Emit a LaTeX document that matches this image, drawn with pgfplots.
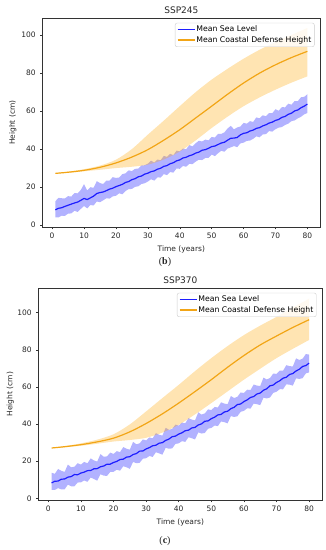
\documentclass[border=0pt]{standalone}
\usepackage{fontspec}
\setmainfont{DejaVu Sans}
\newfontfamily\capfont{Liberation Serif}
\usepackage{pgfplots}
\usepackage{pgfplotstable}
\pgfplotsset{compat=1.18}
\usepgfplotslibrary{fillbetween}

\definecolor{mblue}{RGB}{0,0,255}
\definecolor{lblue}{RGB}{30,30,255}
\definecolor{morange}{RGB}{255,165,0}
\definecolor{lorange}{RGB}{242,165,22}

% SSP245 sea level: x mean lo hi
\pgfplotstableread{
x m lo hi
1 8.0 4.0 12.5
2 8.8 4.0 14.3
3 9.1 4.9 14.1
4 9.8 4.8 14.0
5 10.4 6.0 15.2
6 11.0 6.1 15.0
7 11.6 7.5 16.8
8 12.1 6.9 16.7
9 13.0 8.5 18.5
10 14.0 10.0 21.5
11 13.4 8.8 18.2
12 14.3 10.5 19.9
13 15.2 10.3 19.6
14 16.6 12.4 23.1
15 17.1 12.0 22.1
16 17.4 13.0 21.6
17 18.1 14.1 23.4
18 18.9 13.9 23.4
19 19.4 15.1 25.2
20 20.2 15.4 24.8
21 20.8 16.7 25.0
22 21.4 16.2 26.8
23 22.4 17.9 27.2
24 22.9 18.9 28.8
25 23.9 19.0 28.4
26 24.4 20.1 29.6
27 25.4 20.4 29.7
28 25.8 21.6 31.4
29 26.8 22.0 31.5
30 27.3 22.9 32.3
31 28.1 24.1 33.9
32 28.5 23.4 32.9
33 29.4 25.1 34.5
34 29.9 25.0 34.1
35 30.9 26.8 36.4
36 31.3 26.3 35.9
37 32.3 27.9 37.5
38 32.8 27.6 36.8
39 33.8 29.8 39.2
40 34.3 29.6 38.8
41 35.3 31.1 40.3
42 35.7 30.7 39.9
43 36.5 32.2 42.1
44 37.0 32.1 41.4
45 37.9 33.4 43.1
46 38.4 34.4 44.4
47 39.4 34.2 44.0
48 39.7 35.3 45.0
49 40.4 35.4 44.6
50 41.3 37.1 46.4
51 41.6 36.3 46.1
52 42.4 37.8 48.0
53 43.2 39.1 48.0
54 43.6 38.6 48.8
55 44.7 40.3 50.9
56 45.7 40.9 52.2
57 45.8 41.6 50.4
58 46.1 41.0 51.4
59 47.5 43.0 51.9
60 48.3 43.4 53.8
61 48.6 44.3 53.4
62 49.5 44.5 54.7
63 50.0 45.4 54.3
64 50.9 46.7 56.7
65 51.3 46.2 56.2
66 52.2 47.7 57.8
67 52.8 47.9 57.3
68 53.7 49.5 59.0
69 54.2 49.2 58.9
70 55.1 50.5 61.0
71 55.6 51.3 60.2
72 56.7 51.6 62.1
73 57.2 52.7 62.0
74 58.3 53.4 63.9
75 58.9 54.7 63.4
76 60.1 55.1 65.3
77 60.6 56.2 65.3
78 61.8 57.0 67.3
79 62.6 58.3 67.5
80 63.7 59.0 68.9
}\seaA

% SSP245 coastal defense
\pgfplotstableread{
x m lo hi
1 27.2 27.1 27.3
5 27.8 27.5 28.1
10 28.8 28.3 29.4
15 30.4 29.1 31.3
20 32.7 30.0 34.4
25 35.8 30.7 40.0
30 39.7 31.8 47.6
35 44.7 34.5 55.0
40 50.2 38.7 62.6
45 56.4 44.6 70.0
50 62.6 51.1 76.6
55 68.9 57.1 82.3
60 74.8 62.6 87.6
65 80.0 67.2 92.3
70 84.4 71.3 96.3
75 88.2 75.0 100.1
80 91.5 78.3 103.8
}\defA

% SSP370 sea level
\pgfplotstableread{
x m lo hi
1 8.3 4.6 13.8
2 9.2 4.5 13.2
3 9.3 5.5 15.8
4 10.3 4.8 14.8
5 10.4 4.8 14.2
6 11.4 7.4 18.2
7 11.7 6.5 16.7
8 12.8 6.5 17.0
9 12.7 8.5 18.9
10 13.6 8.6 18.2
11 14.1 9.6 19.6
12 14.9 8.9 18.9
13 15.0 11.2 21.5
14 15.9 10.4 20.4
15 16.0 9.5 19.8
16 17.0 13.0 23.8
17 17.4 12.2 22.4
18 18.4 12.1 22.6
19 18.4 14.2 24.6
20 19.3 14.3 23.9
21 19.9 15.4 25.4
22 20.9 14.9 24.9
23 21.1 17.3 27.6
24 22.2 16.7 26.7
25 22.4 15.9 26.2
26 23.6 19.6 30.4
27 24.1 18.9 29.1
28 25.4 19.1 29.6
29 25.5 21.3 31.7
30 26.6 21.6 31.2
31 27.3 22.8 32.8
32 28.3 22.3 32.3
33 28.6 24.8 35.1
34 29.7 24.2 34.2
35 30.0 23.5 33.8
36 31.2 27.2 38.0
37 31.9 26.7 36.9
38 33.2 26.9 37.4
39 33.5 29.3 39.7
40 34.6 29.6 39.2
41 35.3 30.8 40.8
42 36.4 30.4 40.4
43 36.7 32.9 43.2
44 37.9 32.4 42.4
45 38.2 31.7 42.0
46 39.5 35.5 46.3
47 40.1 34.9 45.1
48 41.5 35.2 45.7
49 41.7 37.5 47.9
50 42.9 37.9 47.5
51 43.7 39.2 49.2
52 44.9 38.9 48.9
53 45.2 41.4 51.7
54 46.5 41.0 51.0
55 46.9 40.4 50.7
56 48.3 44.3 55.1
57 49.0 43.8 54.0
58 50.5 44.2 54.7
59 50.8 46.6 57.0
60 52.1 47.1 56.7
61 53.0 48.5 58.5
62 54.3 48.3 58.3
63 54.8 51.0 61.3
64 56.2 50.7 60.7
65 56.7 50.2 60.5
66 58.2 54.2 65.0
67 59.0 53.8 64.0
68 60.6 54.3 64.8
69 61.0 56.8 67.2
70 62.4 57.4 67.0
71 63.3 58.8 68.8
72 64.7 58.7 68.7
73 65.2 61.4 71.7
74 66.7 61.2 71.2
75 67.2 60.7 71.0
76 68.6 64.6 75.4
77 69.5 64.3 74.5
78 71.0 64.7 75.2
79 71.5 67.3 77.7
80 72.8 67.8 77.4
}\seaB

% SSP370 coastal defense
\pgfplotstableread{
x m lo hi
1 27.1 27.0 27.2
5 27.8 27.5 28.1
10 28.9 28.3 29.6
15 30.4 29.4 31.6
20 32.4 30.6 34.5
25 35.8 31.4 39.8
30 40.3 32.6 46.8
35 45.5 35.4 54.0
40 51.3 39.6 61.1
45 57.5 45.2 68.5
50 63.9 51.3 75.5
55 70.6 57.6 82.0
60 76.9 63.9 87.9
65 82.6 69.8 93.0
70 87.4 75.5 97.7
75 92.0 80.5 102.7
80 96.2 85.3 107.5
}\defB

\pgfplotsset{
  panel/.style={
    scale only axis,
    anchor=south west,
    xmin=-2.95, xmax=83.95,
    xtick={0,10,...,80}, ytick={0,20,...,100},
    tick align=outside, xtick pos=bottom, ytick pos=left,
    major tick length=2.5pt,
    tick style={black!80, line width=0.5pt},
    axis line style={black!80, line width=0.6pt},
    /pgf/number format/assume math mode=true,
    ticklabel style={font=\fontsize{7.5}{9}\selectfont, text=black!85},
    yticklabel style={xshift=-1pt},
    label style={font=\fontsize{7.5}{9}\selectfont, text=black!85},
    title style={font=\fontsize{9}{11}\selectfont, text=black!85, at={(axis description cs:0.5,1)}, anchor=base, yshift=-1.3pt},
    xlabel={Time (years)},
    ylabel={Height (cm)},
    legend cell align=left,
    legend style={at={(1,1)}, anchor=north east, xshift=-5.5pt, yshift=-4.5pt,
      draw=black!20, rounded corners=2pt, fill=white, fill opacity=0.8, text opacity=1,
      font=\fontsize{7.75}{9}\selectfont, inner xsep=2pt, inner ysep=2pt,
      row sep=1pt, nodes={inner sep=1pt}},
    legend image code/.code={\draw[##1, line width=1.2pt] (0pt,0pt) -- (17pt,0pt);},
  }
}

\begin{document}
\begin{tikzpicture}

\begin{axis}[panel, at={(42.7pt,323pt)}, width=277.3pt, height=208.7pt,
  ymin=-1.05, ymax=108.9, title={SSP245},
  xlabel style={at={(axis description cs:0.5,0)}, anchor=base, yshift=-24.2pt},
  ylabel style={at={(axis description cs:-0.1005,0.5)}, anchor=base}]
  \addplot[name path=bu, draw=none, forget plot] table[x=x,y=hi]{\seaA};
  \addplot[name path=bl, draw=none, forget plot] table[x=x,y=lo]{\seaA};
  \addplot[fill=mblue, fill opacity=0.3, draw=none, forget plot] fill between[of=bu and bl];
  \addplot[lblue, line width=1.2pt] table[x=x,y=m]{\seaA};
  \addlegendentry{Mean Sea Level}
  \addplot[name path=ou, draw=none, smooth, forget plot] table[x=x,y=hi]{\defA};
  \addplot[name path=ol, draw=none, smooth, forget plot] table[x=x,y=lo]{\defA};
  \addplot[fill=morange, fill opacity=0.3, draw=none, forget plot] fill between[of=ou and ol];
  \addplot[lorange, line width=1.2pt, smooth] table[x=x,y=m]{\defA};
  \addlegendentry{Mean Coastal Defense Height}
\end{axis}

\begin{axis}[panel, at={(38.7pt,50pt)}, width=283.3pt, height=211.7pt,
  ymin=-0.9, ymax=113.1, title={SSP370},
  xlabel style={at={(axis description cs:0.5,0)}, anchor=base, yshift=-24.2pt},
  ylabel style={at={(axis description cs:-0.0925,0.5)}, anchor=base}]
  \addplot[name path=bu, draw=none, forget plot] table[x=x,y=hi]{\seaB};
  \addplot[name path=bl, draw=none, forget plot] table[x=x,y=lo]{\seaB};
  \addplot[fill=mblue, fill opacity=0.3, draw=none, forget plot] fill between[of=bu and bl];
  \addplot[lblue, line width=1.2pt] table[x=x,y=m]{\seaB};
  \addlegendentry{Mean Sea Level}
  \addplot[name path=ou, draw=none, smooth, forget plot] table[x=x,y=hi]{\defB};
  \addplot[name path=ol, draw=none, smooth, forget plot] table[x=x,y=lo]{\defB};
  \addplot[fill=morange, fill opacity=0.3, draw=none, forget plot] fill between[of=ou and ol];
  \addplot[lorange, line width=1.2pt, smooth] table[x=x,y=m]{\defB};
  \addlegendentry{Mean Coastal Defense Height}
\end{axis}

\node[font=\capfont\fontsize{10}{12}\selectfont, text=black!85] at (165pt,288pt) {(\textbf{b})};
\node[font=\capfont\fontsize{10}{12}\selectfont, text=black!85] at (165pt,9pt) {(\textbf{c})};
\pgfresetboundingbox
\path[use as bounding box] (0pt,0pt) rectangle (326pt,550pt);
\end{tikzpicture}
\end{document}
